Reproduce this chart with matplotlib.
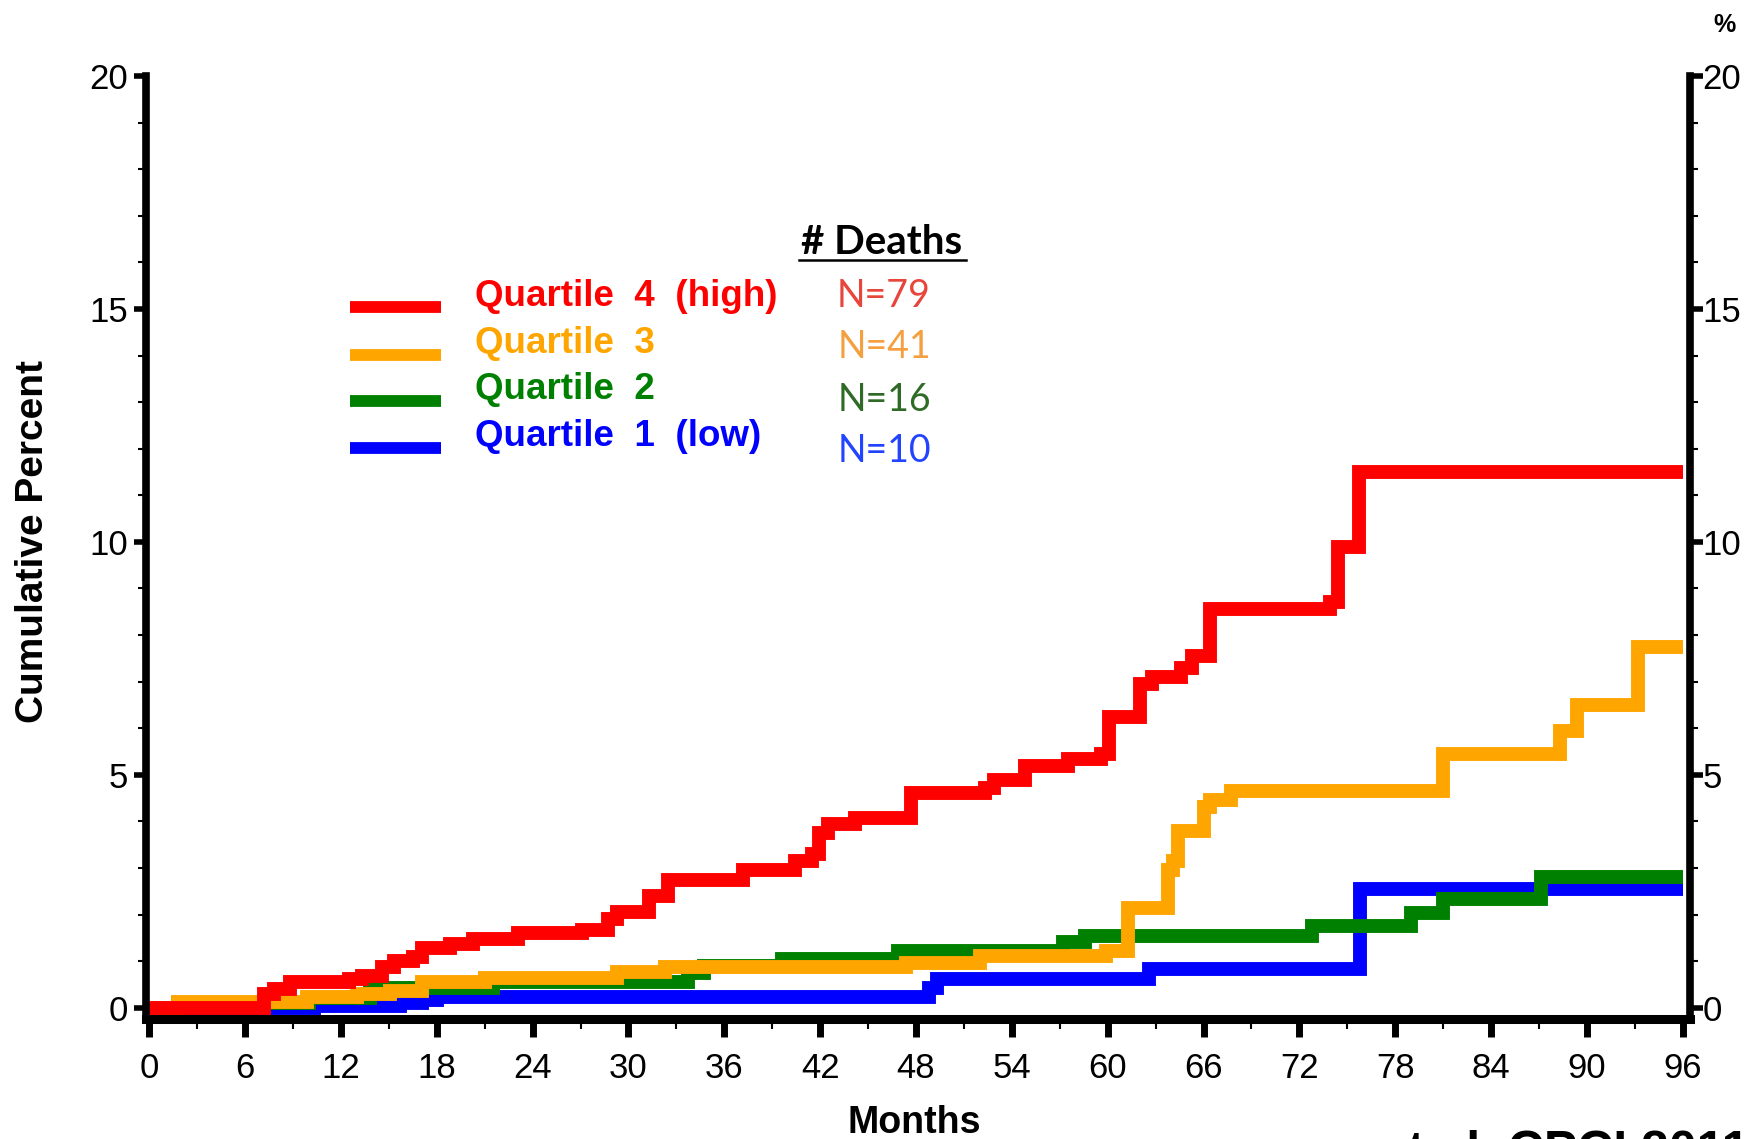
import matplotlib
matplotlib.use("Agg")
import matplotlib.pyplot as plt
from matplotlib.lines import Line2D
from matplotlib.ticker import MultipleLocator

# cumulative mortality (%) by quartile, step times in months
q4_months = [0, 7.2, 7.8, 8.8, 12.5, 13.3, 14.6, 15.3, 16.5, 17.1, 18.8, 20.3, 23.1, 27.1,
             28.7, 29.3, 31.3, 32.5, 37.2, 40.4, 41.5, 41.9, 42.5, 44.2, 47.7, 52.3, 52.9,
             54.8, 57.5, 59.6, 60.1, 62.0, 62.8, 64.6, 65.3, 66.4, 73.9, 74.4, 75.7, 96]
q4_pct = [0, 0.3, 0.4, 0.55, 0.62, 0.68, 0.88, 1.0, 1.1, 1.28, 1.37, 1.48, 1.6, 1.67,
          1.9, 2.05, 2.4, 2.75, 2.95, 3.15, 3.3, 3.75, 3.95, 4.08, 4.62, 4.72, 4.9,
          5.2, 5.35, 5.45, 6.25, 6.95, 7.1, 7.3, 7.55, 8.55, 8.7, 9.9, 11.5, 11.5]

q3_months = [0, 1.8, 9.9, 13.0, 15.1, 17.1, 21.0, 29.3, 32.3, 47.4, 52.0, 59.9, 61.3,
             63.8, 64.1, 64.4, 66.0, 66.4, 67.7, 81.0, 88.3, 89.4, 93.2, 96]
q3_pct = [0, 0.13, 0.24, 0.3, 0.37, 0.55, 0.64, 0.77, 0.88, 0.97, 1.12, 1.22, 2.15,
          2.95, 3.15, 3.8, 4.3, 4.45, 4.65, 5.45, 5.95, 6.5, 7.75, 7.75]

q2_months = [0, 1.8, 10.0, 13.8, 21.5, 33.7, 34.7, 39.6, 46.9, 57.2, 58.6, 72.8, 79.0,
             81.0, 87.1, 96]
q2_pct = [0, 0.1, 0.2, 0.42, 0.56, 0.74, 0.9, 1.05, 1.22, 1.42, 1.54, 1.75, 2.04,
          2.33, 2.8, 2.8]

q1_months = [0, 10.3, 15.7, 17.1, 18.0, 48.8, 49.3, 62.6, 75.8, 96]
q1_pct = [0, 0.04, 0.1, 0.16, 0.24, 0.42, 0.62, 0.83, 2.55, 2.55]

labels = ["Quartile  4  (high)", "Quartile  3", "Quartile  2", "Quartile  1  (low)"]
deaths = ["N=79", "N=41", "N=16", "N=10"]
colors = ["#FF0000", "#FFA500", "#008000", "#0000FF"]
death_colors = ["#E8453C", "#F4A040", "#2F6B26", "#2244FF"]

W, H = 1752, 1139
plt.rcParams["font.family"] = ["Liberation Sans", "DejaVu Sans"]


def fx(px):
    return px / W


def fy(py):
    return 1 - py / H


fig = plt.figure(figsize=(W / 100, H / 100), dpi=100)
ax = fig.add_axes([fx(146), fy(1019), fx(1690) - fx(146), fy(76) - fy(1019)])

series = [(q1_months, q1_pct, colors[3], 1),
          (q2_months, q2_pct, colors[2], 2),
          (q3_months, q3_pct, colors[1], 3),
          (q4_months, q4_pct, colors[0], 4)]
for m, p, c, z in series:
    ax.step(m, p, where="post", color=c, lw=10, zorder=z,
            solid_joinstyle="miter", solid_capstyle="butt")

ax.set_xlim(-0.2, 96.45)
ax.set_ylim(-0.24, 20)
ax.xaxis.set_major_locator(MultipleLocator(6))
ax.xaxis.set_minor_locator(MultipleLocator(3))
ax.yaxis.set_major_locator(MultipleLocator(5))
ax.yaxis.set_minor_locator(MultipleLocator(1))

ax.spines["top"].set_visible(False)
ax.spines["right"].set_visible(False)
ax.spines["left"].set_linewidth(5.5)
ax.spines["bottom"].set_linewidth(6.5)
for s in ax.spines.values():
    s.set_zorder(6)

ax.tick_params(axis="x", which="major", direction="out", length=13, width=5,
               labelsize=25, pad=11)
ax.tick_params(axis="x", which="minor", direction="out", length=7, width=1.5)
ax.tick_params(axis="y", which="major", direction="out", length=9, width=4,
               labelsize=25, pad=4)
ax.tick_params(axis="y", which="minor", direction="out", length=6, width=1.5)

# mirrored percent scale on the right
ax2 = ax.twinx()
ax2.set_ylim(ax.get_ylim())
ax2.yaxis.set_major_locator(MultipleLocator(5))
ax2.yaxis.set_minor_locator(MultipleLocator(1))
for side in ["top", "left", "bottom"]:
    ax2.spines[side].set_visible(False)
ax2.spines["right"].set_linewidth(5.5)
ax2.tick_params(axis="y", which="major", direction="out", length=9, width=4,
                labelsize=25, pad=0)
ax2.tick_params(axis="y", which="minor", direction="out", length=6, width=1.5)

fig.text(fx(33), fy(542), "Cumulative Percent", rotation=90, ha="center", va="center",
         fontsize=28, fontweight="bold")
fig.text(fx(914), fy(1123), "Months", ha="center", va="center",
         fontsize=27, fontweight="bold")
fig.text(fx(1724), fy(25), "%", ha="center", va="center", fontsize=18, fontweight="bold")

# legend block
label_y = [296, 344, 390, 437]
line_y = [307, 355, 401, 448]
n_y = [296, 347, 400, 451]
for lab, n, c, dc, ly, sy, ny in zip(labels, deaths, colors, death_colors,
                                     label_y, line_y, n_y):
    fig.add_artist(Line2D([fx(350), fx(441)], [fy(sy), fy(sy)], lw=8.5, color=c,
                          solid_capstyle="butt"))
    fig.text(fx(475), fy(ly), lab, ha="left", va="center", color=c,
             fontsize=26.5, fontweight="bold")
    fig.text(fx(884), fy(ny), n, ha="center", va="center", color=dc,
             fontsize=27, family=["Lato", "DejaVu Sans"])

fig.text(fx(882), fy(242), "# Deaths", ha="center", va="center", fontsize=29,
         fontweight="bold", family=["Lato", "DejaVu Sans"])
fig.add_artist(Line2D([fx(799), fx(966)], [fy(260), fy(260)], lw=1.8, color="black"))

# citation line, running off the bottom edge
fig.text(fx(1380), fy(1130), "et al. CPCI 2011", ha="left", va="top", fontsize=36,
         fontweight="bold")

fig.savefig("out.png", dpi=100)
